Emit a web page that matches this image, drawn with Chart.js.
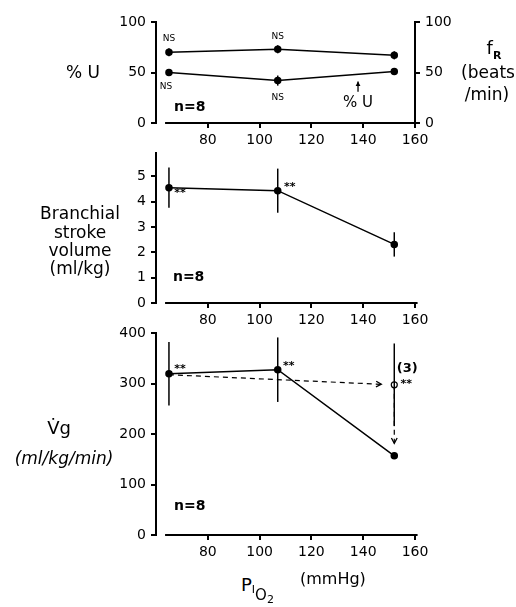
<!DOCTYPE html>
<html>
<head>
<meta charset="utf-8">
<script src="https://cdn.jsdelivr.net/npm/chart.js@4"></script>
<style>
    html, body { margin: 0; padding: 0; background: #fff; }
    #fig { position: relative; width: 516px; height: 607px; font-family: "DejaVu Sans", sans-serif; color: #000; overflow: hidden; }
    #fig canvas { position: absolute; left: 0; }
    .lbl { position: absolute; white-space: nowrap; transform: translate(-50%, -50%); font-size: 17px; line-height: 1; text-align: center; }
</style>
</head>
<body>
<div id="fig">
    <canvas id="topChart" width="516" height="152" style="top:0px"></canvas>
    <canvas id="midChart" width="516" height="190" style="top:140px"></canvas>
    <canvas id="botChart" width="516" height="250" style="top:320px"></canvas>

    <!-- axis titles -->
    <div class="lbl" style="left:83px;top:72px">% U</div>
    <div class="lbl" style="left:494px;top:50px;font-size:18px">f<sub style="font-size:11px;font-weight:bold">R</sub></div>
    <div class="lbl" style="left:488px;top:72px">(beats</div>
    <div class="lbl" style="left:487px;top:94px">/min)</div>

    <div class="lbl" style="left:80px;top:213px">Branchial</div>
    <div class="lbl" style="left:80px;top:232px">stroke</div>
    <div class="lbl" style="left:80px;top:250px">volume</div>
    <div class="lbl" style="left:80px;top:268px">(ml/kg)</div>

    <div class="lbl" style="left:59px;top:428px;font-size:18px">V&#775;g</div>
    <div class="lbl" style="left:64px;top:458px;font-style:italic">(ml/kg/min)</div>

    <div style="position:absolute;left:241px;top:576px;font-size:18px;line-height:1;white-space:nowrap">P<span style="font-size:11px;position:relative;top:2px">I</span><span style="font-size:15px;position:relative;top:9px">O<span style="font-size:11px;position:relative;top:3px">2</span></span></div>
    <div style="position:absolute;left:300px;top:571px;font-size:16px;line-height:1;white-space:nowrap">(mmHg)</div>
</div>

<script>
    // ---- data ----
    const pio2 = [65, 107, 152];            // inspired PO2, mmHg

    const fR = [70, 73, 67];                // beats/min (right axis)
    const fRErr = [4, 4, 4];
    const pctU = [50, 42, 51];              // % U (left axis)
    const pctUErr = [2, 5, 3];

    const strokeVol = [4.55, 4.43, 2.31];   // ml/kg
    const strokeVolErr = [0.79, 0.87, 0.48];

    const vg = [320, 328, 157];             // ml/kg/min
    const vgErr = [63, 64, 0];
    const vgSubX = 152;                     // subgroup (n=3) open point
    const vgSub = 298;
    const vgSubErr = 82;
    const vgShiftX = [65, 147];             // dashed arrow, first point -> subgroup
    const vgShiftY = [318, 299];
    const vgDropY = [298, 182];             // dashed arrow, subgroup -> last point

    const pctUArrowX = 138;                 // small "% U" pointer in top panel
    const pctUArrowY = [31, 41];

    const xTicks = [80, 100, 120, 140, 160];

    Chart.defaults.font.family = '"DejaVu Sans", sans-serif';
    Chart.defaults.color = '#000';

    const pts = (xs, ys) => xs.map((x, i) => ({ x: x, y: ys[i] }));

    // Scale helpers
    function xScale(height) {
        return {
            type: 'linear', min: 60, max: 160,
            ticks: {
                stepSize: 20, autoSkip: false, maxRotation: 0, padding: 4,
                font: { size: 14 }, color: '#000',
                callback: v => xTicks.includes(v) ? String(v) : ''
            },
            grid: {
                drawOnChartArea: false, tickLength: 5, lineWidth: 2,
                color: c => (c.tick && xTicks.includes(c.tick.value)) ? '#000' : 'rgba(0,0,0,0)'
            },
            border: { display: false },
            afterFit: s => { s.height = height; }
        };
    }

    function yScale(max, step, width, position) {
        return {
            type: 'linear', position: position || 'left', min: 0, max: max,
            ticks: { stepSize: step, padding: 5, font: { size: 14 }, color: '#000' },
            grid: { drawOnChartArea: false, tickLength: 5, lineWidth: 2, color: '#000' },
            border: { display: true, color: '#000', width: 2 },
            afterFit: s => { s.width = width; },
            afterBuildTicks: s => {
                s.ticks = s.ticks.filter(t => Math.abs(t.value / step - Math.round(t.value / step)) < 1e-6);
            }
        };
    }

    // Plugins
    const xAxisLine = {
        id: 'xAxisLine',
        beforeDatasetsDraw(chart) {
            const ctx = chart.ctx, xs = chart.scales.x, a = chart.chartArea;
            ctx.save();
            ctx.strokeStyle = '#000';
            ctx.lineWidth = 2;
            ctx.beginPath();
            ctx.moveTo(xs.getPixelForValue(63.5), a.bottom);
            ctx.lineTo(xs.getPixelForValue(161), a.bottom);
            ctx.stroke();
            ctx.restore();
        }
    };

    function errorBars(sets) {
        return {
            id: 'errorBars',
            afterDatasetsDraw(chart) {
                const ctx = chart.ctx, xs = chart.scales.x;
                ctx.save();
                ctx.strokeStyle = '#000';
                ctx.lineWidth = 1.5;
                sets.forEach(s => {
                    const ys = chart.scales[s.axis || 'y'];
                    s.x.forEach((xv, i) => {
                        if (!s.err[i]) return;
                        const px = xs.getPixelForValue(xv);
                        ctx.beginPath();
                        ctx.moveTo(px, ys.getPixelForValue(s.y[i] - s.err[i]));
                        ctx.lineTo(px, ys.getPixelForValue(s.y[i] + s.err[i]));
                        ctx.stroke();
                    });
                });
                ctx.restore();
            }
        };
    }

    function arrowHeads(list) {
        return {
            id: 'arrowHeads',
            afterDatasetsDraw(chart) {
                const ctx = chart.ctx, xs = chart.scales.x;
                ctx.save();
                ctx.strokeStyle = '#000';
                ctx.fillStyle = '#000';
                ctx.lineWidth = 1.3;
                list.forEach(a => {
                    const ys = chart.scales[a.axis || 'y'];
                    const x0 = xs.getPixelForValue(a.from[0]), y0 = ys.getPixelForValue(a.from[1]);
                    const x1 = xs.getPixelForValue(a.to[0]), y1 = ys.getPixelForValue(a.to[1]);
                    const ang = Math.atan2(y1 - y0, x1 - x0);
                    const len = a.size || 6;
                    if (a.drawLine) {
                        ctx.beginPath();
                        ctx.moveTo(x0, y0);
                        ctx.lineTo(x1, y1);
                        ctx.stroke();
                    }
                    ctx.beginPath();
                    ctx.moveTo(x1 - len * Math.cos(ang - 0.5), y1 - len * Math.sin(ang - 0.5));
                    ctx.lineTo(x1, y1);
                    ctx.lineTo(x1 - len * Math.cos(ang + 0.5), y1 - len * Math.sin(ang + 0.5));
                    if (a.filled) { ctx.closePath(); ctx.fill(); } else { ctx.stroke(); }
                });
                ctx.restore();
            }
        };
    }

    function notes(items) {
        return {
            id: 'notes',
            afterDatasetsDraw(chart) {
                const ctx = chart.ctx, xs = chart.scales.x;
                ctx.save();
                ctx.fillStyle = '#000';
                ctx.textAlign = 'center';
                ctx.textBaseline = 'middle';
                items.forEach(n => {
                    const ys = chart.scales[n.axis || 'y'];
                    ctx.font = n.font || 'bold 13px "DejaVu Sans"';
                    ctx.fillText(n.text, xs.getPixelForValue(n.x) + (n.dx || 0), ys.getPixelForValue(n.y) + (n.dy || 0));
                });
                ctx.restore();
            }
        };
    }

    function lineSet(data, axis) {
        return {
            data: data, yAxisID: axis || 'y', showLine: true,
            borderColor: '#000', borderWidth: 1.5,
            pointRadius: 3, pointBackgroundColor: '#000', pointBorderColor: '#000'
        };
    }

    const baseOptions = (padding, scales) => ({
        responsive: false, animation: false, devicePixelRatio: 1,
        layout: { padding: padding },
        plugins: { legend: { display: false }, tooltip: { enabled: false } },
        scales: scales
    });

    const small = '9px "DejaVu Sans"';

    // Top panel: % U and fR
    new Chart(document.getElementById('topChart'), {
        type: 'scatter',
        data: {
            datasets: [
                lineSet(pts(pio2, fR), 'y1'),
                lineSet(pts(pio2, pctU), 'y')
            ]
        },
        options: baseOptions({ top: 22, left: 0, right: 0, bottom: 0 }, {
            x: xScale(29),
            y: yScale(100, 50, 156, 'left'),
            y1: yScale(100, 50, 101, 'right')
        }),
        plugins: [
            xAxisLine,
            errorBars([
                { x: pio2, y: fR, err: fRErr, axis: 'y1' },
                { x: pio2, y: pctU, err: pctUErr }
            ]),
            arrowHeads([
                { from: [pctUArrowX, pctUArrowY[0]], to: [pctUArrowX, pctUArrowY[1]], drawLine: true, filled: true, size: 5 }
            ]),
            notes([
                { x: pio2[0], y: fR[0], dy: -14, text: 'NS', font: small, axis: 'y1' },
                { x: pio2[1], y: fR[1], dy: -13, text: 'NS', font: small, axis: 'y1' },
                { x: pio2[0], y: pctU[0], dx: -3, dy: 14, text: 'NS', font: small },
                { x: pio2[1], y: pctU[1], dy: 17, text: 'NS', font: small },
                { x: 73, y: 15, text: 'n=8', font: 'bold 14px "DejaVu Sans"' },
                { x: pctUArrowX, y: 20, text: '% U', font: '15px "DejaVu Sans"' }
            ])
        ]
    });

    // Middle panel: branchial stroke volume
    new Chart(document.getElementById('midChart'), {
        type: 'scatter',
        data: { datasets: [lineSet(pts(pio2, strokeVol))] },
        options: baseOptions({ top: 10, left: 0, right: 101, bottom: 0 }, {
            x: xScale(27),
            y: yScale(5.9, 1, 156, 'left')
        }),
        plugins: [
            xAxisLine,
            errorBars([{ x: pio2, y: strokeVol, err: strokeVolErr }]),
            notes([
                { x: pio2[0], y: strokeVol[0], dx: 11, dy: 6, text: '**', font: 'bold 11px "DejaVu Sans"' },
                { x: pio2[1], y: strokeVol[1], dx: 12, dy: -4, text: '**', font: 'bold 11px "DejaVu Sans"' },
                { x: 72.6, y: 1, text: 'n=8', font: 'bold 14px "DejaVu Sans"' }
            ])
        ]
    });

    // Bottom panel: Vg
    new Chart(document.getElementById('botChart'), {
        type: 'scatter',
        data: {
            datasets: [
                lineSet(pts(pio2, vg)),
                {
                    data: pts(vgShiftX, vgShiftY), showLine: true, borderColor: '#000', borderWidth: 1.2,
                    borderDash: [5, 4], pointRadius: 0, order: 2
                },
                {
                    data: pts([vgSubX, vgSubX], vgDropY), showLine: true, borderColor: '#000', borderWidth: 1.2,
                    borderDash: [5, 4], pointRadius: 0, order: 2
                },
                {
                    data: [{ x: vgSubX, y: vgSub }], showLine: false, pointRadius: 3,
                    pointBackgroundColor: '#fff', pointBorderColor: '#000', pointBorderWidth: 1.2, order: 0
                }
            ]
        },
        options: baseOptions({ top: 10, left: 0, right: 101, bottom: 0 }, {
            x: xScale(35),
            y: yScale(400, 100, 156, 'left')
        }),
        plugins: [
            xAxisLine,
            errorBars([
                { x: pio2, y: vg, err: vgErr },
                { x: [vgSubX], y: [vgSub], err: [vgSubErr] }
            ]),
            arrowHeads([
                { from: [vgShiftX[0], vgShiftY[0]], to: [vgShiftX[1], vgShiftY[1]], size: 6 },
                { from: [vgSubX, vgDropY[0]], to: [vgSubX, vgDropY[1]], size: 6 }
            ]),
            notes([
                { x: pio2[0], y: vg[0], dx: 11, dy: -5, text: '**', font: 'bold 11px "DejaVu Sans"' },
                { x: pio2[1], y: vg[1], dx: 11, dy: -4, text: '**', font: 'bold 11px "DejaVu Sans"' },
                { x: vgSubX, y: vgSub, dx: 12, dy: -1, text: '**', font: 'bold 11px "DejaVu Sans"' },
                { x: vgSubX, y: vgSub, dx: 13, dy: -16, text: '(3)', font: 'bold 13px "DejaVu Sans"' },
                { x: 73, y: 57, text: 'n=8', font: 'bold 14px "DejaVu Sans"' }
            ])
        ]
    });
</script>
</body>
</html>
